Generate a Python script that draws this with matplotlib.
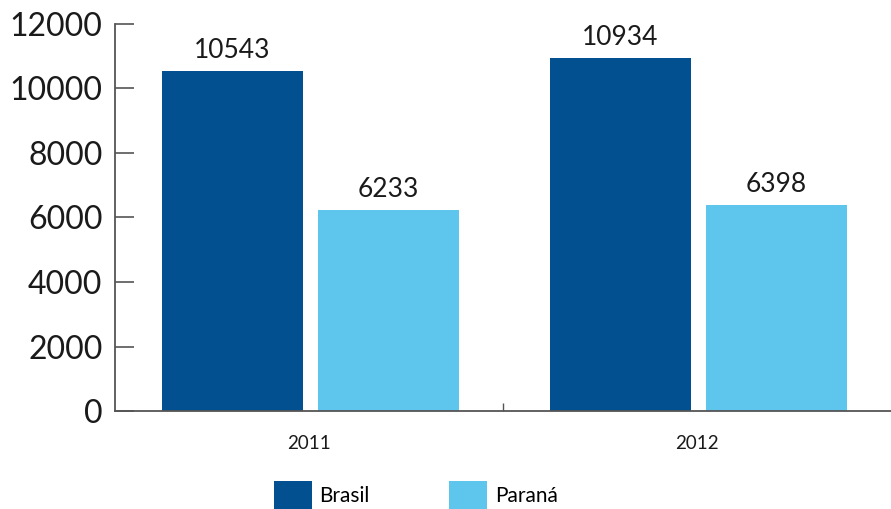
import matplotlib.pyplot as plt
import numpy as np

years = ['2011', '2012']
brasil = [10543, 10934]
parana = [6233, 6398]
series_names = ['Brasil', 'Paraná']
yticks = [0, 2000, 4000, 6000, 8000, 10000, 12000]

plt.rcParams['font.family'] = ['Lato', 'DejaVu Sans']

fig = plt.figure(figsize=(8.91, 5.09), dpi=100)
ax = fig.add_axes([0.129, 0.1925, 0.871, 0.7605])

x = np.arange(len(years))
w = 0.363
b1 = ax.bar(x - 0.197, brasil, w, color='#02508f', label=series_names[0])
b2 = ax.bar(x + 0.205, parana, w, color='#5ec6ec', label=series_names[1])

for bars in (b1, b2):
    for r in bars:
        ax.text(r.get_x() + r.get_width() / 2, r.get_height() + 250, str(int(r.get_height())),
                ha='center', va='bottom', fontsize=19, color='#1a1a1a')

ax.set_xlim(-0.5, 1.5)
ax.set_ylim(0, 12000)
ax.set_yticks(yticks)
ax.set_yticklabels([str(t) for t in yticks], fontsize=23, color='#1a1a1a')
ax.tick_params(axis='y', direction='in', length=14, width=1.2, color='#555555', pad=9)
ax.set_xticks(x)
ax.set_xticklabels(years, fontsize=13.5, color='#1a1a1a')
ax.tick_params(axis='x', which='major', length=0, pad=17)
ax.set_xticks([0.5], minor=True)
ax.tick_params(axis='x', which='minor', direction='in', length=6, width=1, color='#555555')

for s in ('top', 'right'):
    ax.spines[s].set_visible(False)
for s in ('left', 'bottom'):
    ax.spines[s].set_color('#555555')
    ax.spines[s].set_linewidth(1.3)

fig.legend(loc='lower left', bbox_to_anchor=(0.307, 0.0), ncol=2, frameon=False,
           fontsize=15, handlelength=1.85, handleheight=1.7, handletextpad=0.35,
           columnspacing=3.8, borderpad=0, borderaxespad=0)

fig.savefig('out.png', dpi=100)
